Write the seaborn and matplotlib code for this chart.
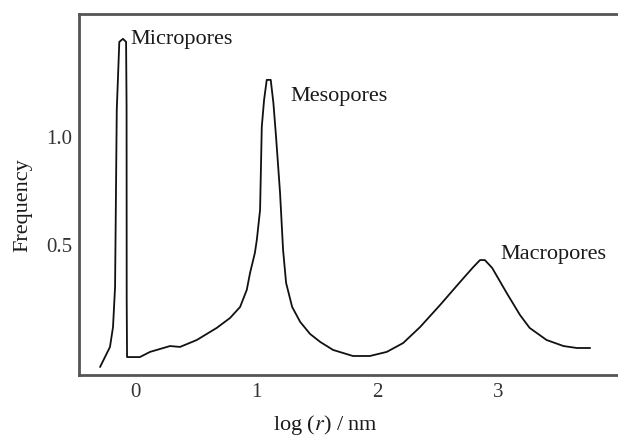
import matplotlib
matplotlib.use("Agg")
import matplotlib.pyplot as plt
import seaborn as sns
import pandas as pd

# Pore size distribution: log radius (nm) vs frequency
log_r = [-0.289, -0.207, -0.182, -0.165, -0.151, -0.130, -0.100, -0.074, -0.070,
         -0.069, -0.066, 0.040, 0.124, 0.289, 0.372, 0.510, 0.675, 0.785, 0.868,
         0.923, 0.950, 0.990, 1.006, 1.033, 1.047, 1.066, 1.088, 1.121, 1.143,
         1.165, 1.198, 1.223, 1.248, 1.298, 1.364, 1.446, 1.530, 1.636, 1.800,
         1.940, 2.080, 2.215, 2.355, 2.520, 2.686, 2.795, 2.850, 2.890, 2.950,
         3.070, 3.180, 3.260, 3.400, 3.540, 3.650, 3.760]
frequency = [-0.065, 0.028, 0.120, 0.306, 1.125, 1.440, 1.454, 1.440, 1.139,
             0.245, -0.019, -0.019, 0.005, 0.032, 0.028, 0.060, 0.116, 0.162, 0.213,
             0.292, 0.370, 0.463, 0.523, 0.662, 1.046, 1.171, 1.264, 1.264, 1.157,
             1.000, 0.741, 0.477, 0.324, 0.213, 0.144, 0.088, 0.051, 0.014, -0.014,
             -0.014, 0.005, 0.046, 0.120, 0.222, 0.329, 0.398, 0.430, 0.430, 0.394,
             0.278, 0.176, 0.116, 0.060, 0.032, 0.023, 0.023]

peak_labels = ["Micropores", "Mesopores", "Macropores"]
label_x = [-0.041, 1.281, 3.017]
label_y = [1.449, 1.185, 0.454]

x_ticks = [0, 1, 2, 3]
y_ticks = [0.5, 1.0]
y_tick_labels = ["0.5", "1.0"]

sns.set_theme(style="white")
plt.rcParams["font.family"] = ["Liberation Serif", "DejaVu Serif"]
plt.rcParams["mathtext.fontset"] = "stix"

fig = plt.figure(figsize=(6.18, 4.38), dpi=100)
ax = fig.add_axes([79 / 618, 1 - 375 / 438, (618 - 79) / 618, (375 - 14) / 438])

df = pd.DataFrame({"log_r": log_r, "frequency": frequency})
sns.lineplot(data=df, x="log_r", y="frequency", sort=False, estimator=None,
             color="#111111", linewidth=1.3, ax=ax)

for name, tx, ty in zip(peak_labels, label_x, label_y):
    ax.text(tx, ty, name, fontsize=16, color="#1a1a1a", ha="left", va="center")

ax.set_xlim(-0.463, 3.99)
ax.set_ylim(-0.102, 1.569)
ax.set_xticks(x_ticks)
ax.set_xticklabels([str(t) for t in x_ticks])
ax.set_yticks(y_ticks)
ax.set_yticklabels(y_tick_labels)

ax.tick_params(axis="x", direction="inout", length=5, width=1.2, color="#555555",
               labelsize=15, labelcolor="#333333", pad=3)
ax.tick_params(axis="y", direction="out", length=4, width=1.2, color="#555555",
               labelsize=15, labelcolor="#333333", pad=1)

ax.set_xlabel("log ($\\mathit{r}$) / nm", fontsize=16, color="#1a1a1a")
ax.set_ylabel("Frequency", fontsize=16, color="#1a1a1a")
ax.xaxis.set_label_coords(0.458, -0.105)
ax.yaxis.set_label_coords(-0.087, 0.47)

for side in ["left", "top", "bottom"]:
    ax.spines[side].set_color("#555555")
    ax.spines[side].set_linewidth(2.0)
    ax.spines[side].set_visible(True)
ax.spines["right"].set_visible(False)

fig.savefig("out.png", dpi=100, facecolor="white")
